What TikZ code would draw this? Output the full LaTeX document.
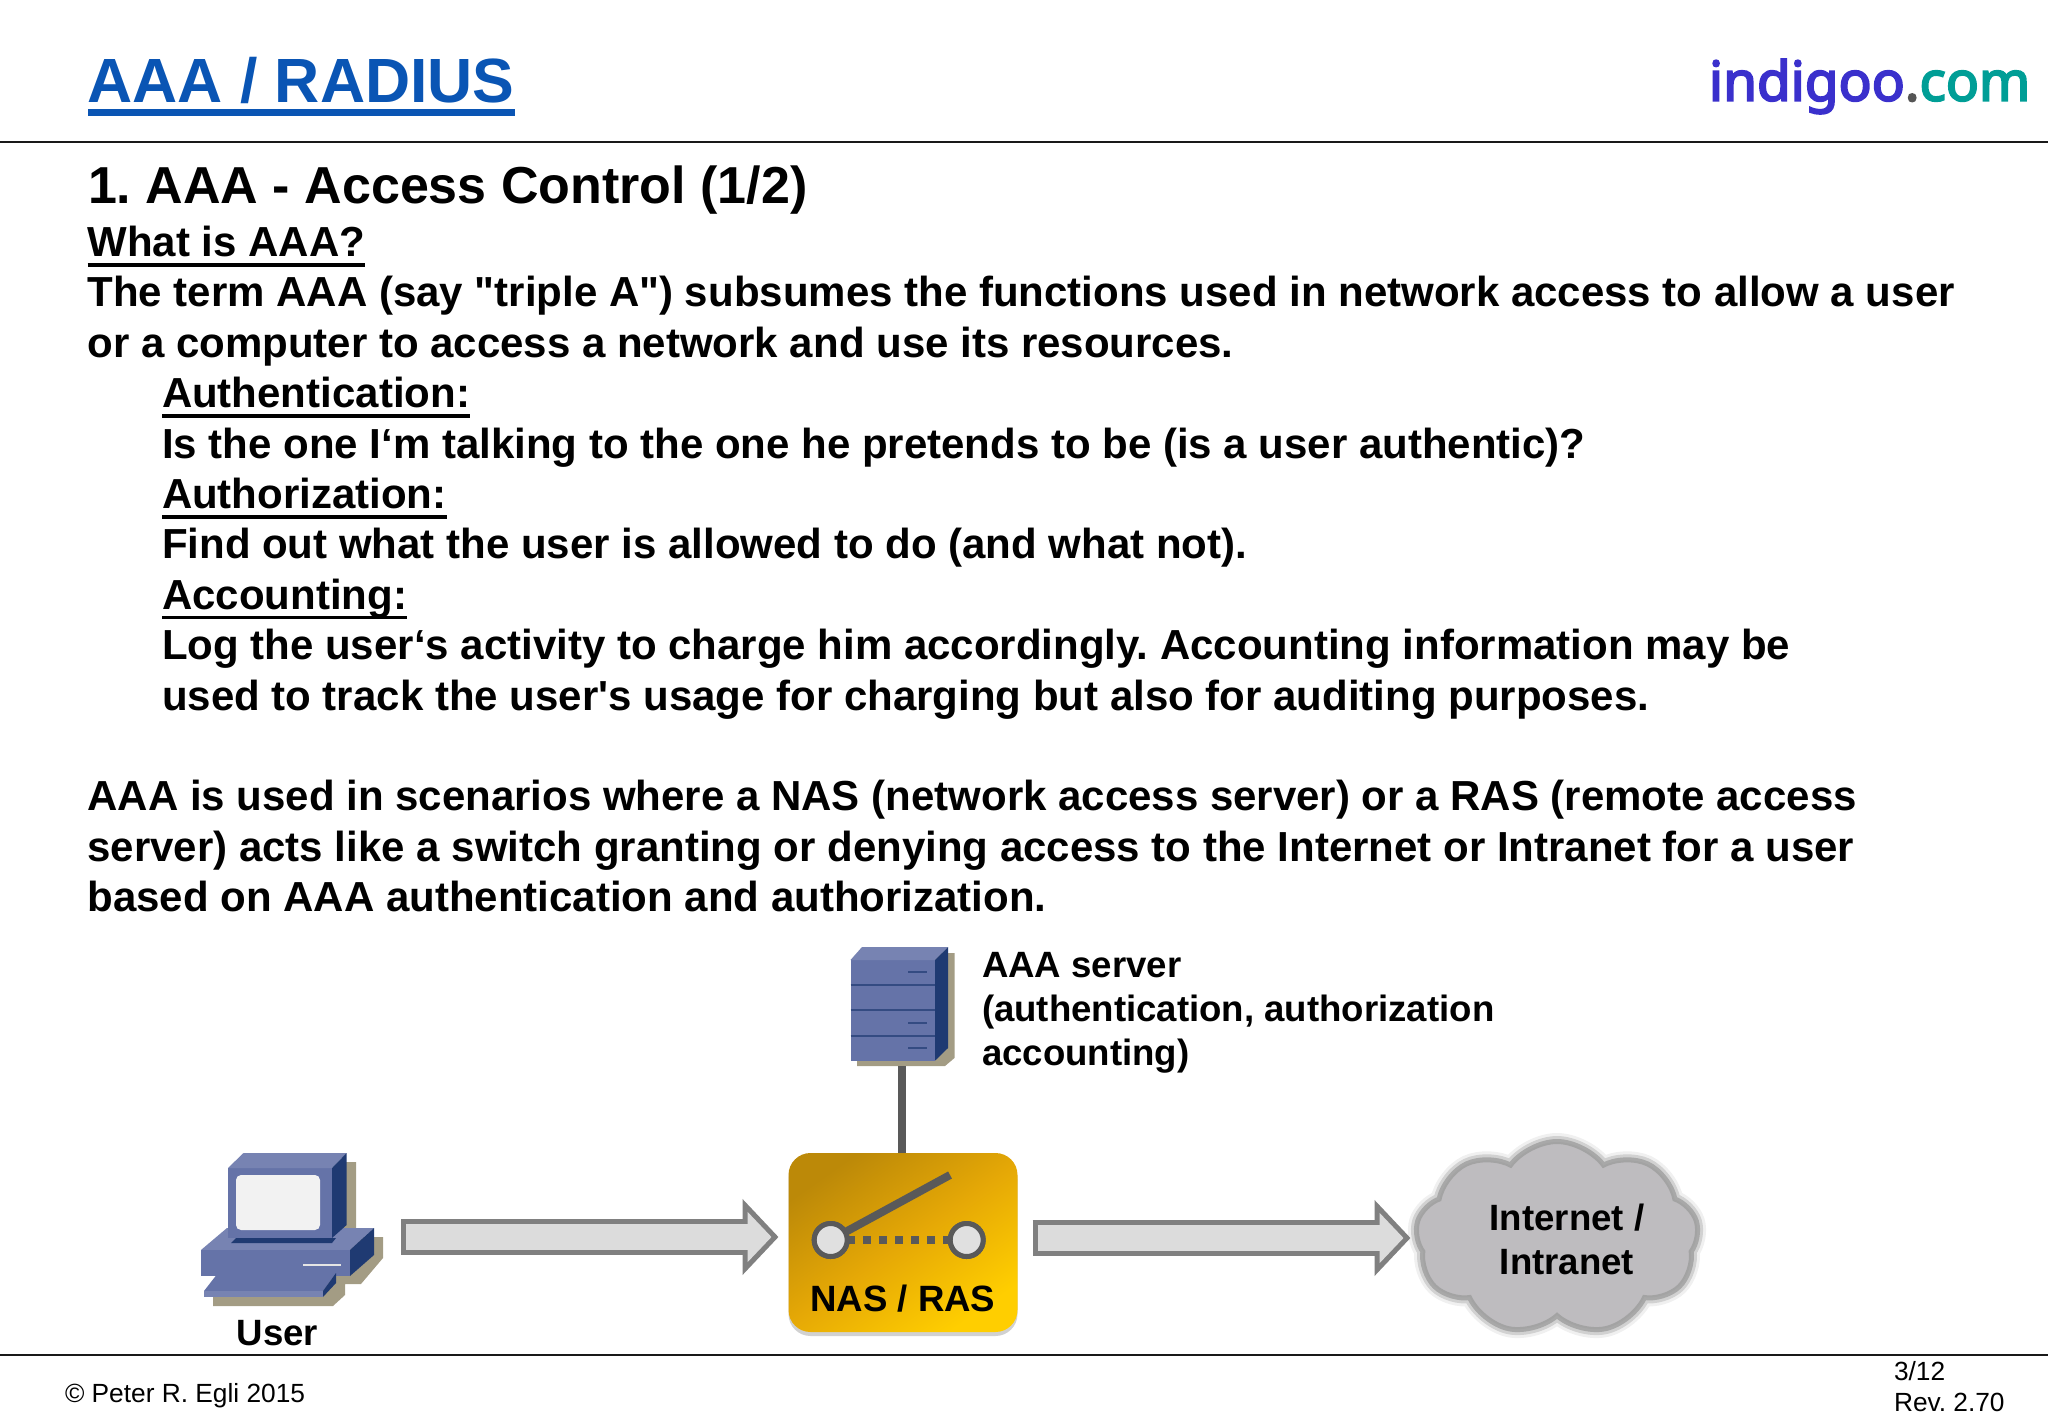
\documentclass[tikz,border=0pt]{standalone}
\usepackage{fontspec}
\setmainfont{Liberation Sans}[Ligatures=TeXOff]
\newfontfamily\logofont{Noto Sans}[FakeBold=3.5]
\usetikzlibrary{arrows.meta,shadows,shapes.symbols}

\definecolor{titleblue}{HTML}{0A55B4}
\definecolor{logoblue}{HTML}{3A30CC}
\definecolor{logoteal}{HTML}{009E96}
\definecolor{logogrey}{HTML}{555555}
\definecolor{boxfront}{HTML}{6573A8}
\definecolor{boxtop}{HTML}{7783B2}
\definecolor{boxside}{HTML}{1F3A72}
\definecolor{boxshadow}{HTML}{A39C84}
\definecolor{arrowedge}{HTML}{808080}
\definecolor{arrowfill}{HTML}{DCDCDC}
\definecolor{cloudfill}{HTML}{BEBCBF}
\definecolor{nasdark}{HTML}{BC8908}
\definecolor{nasmid}{HTML}{E5A806}
\definecolor{naslight}{HTML}{FFCE00}

\newcommand{\titlehead}[1]{\setbox0\hbox{#1}\rlap{\rule[-13pt]{\wd0}{7pt}}\box0}
\newcommand{\bodyhead}[1]{\setbox0\hbox{#1}\rlap{\rule[-10pt]{\wd0}{3.5pt}}\box0}

\tikzset{
    pagetext/.style={anchor=base west,inner sep=0pt,outer sep=0pt},
    bodyline/.style={pagetext,font=\fontsize{42}{42}\selectfont\bfseries},
    smallline/.style={pagetext,font=\fontsize{26.3}{26.3}\selectfont},
    drawlabel/.style={inner sep=0pt,outer sep=0pt,font=\fontsize{36.6}{44}\selectfont\bfseries},
    hidebox/.style={inner sep=0pt,outer sep=0pt},
    rulerline/.style={line width=2pt,black!90},
    boxline/.style={boxside!70!boxfront,line width=1.3pt},
    blockouter/.style={line width=36pt,arrowedge,-{Triangle[length=36pt,width=74pt]}},
    blockinner/.style={line width=26pt,arrowfill,-{Triangle[length=24pt,width=49pt]}},
    switchdot/.style={circle,draw=black!65,fill=black!12,line width=5pt,minimum size=33pt,inner sep=0pt,outer sep=0pt},
    switchbox/.style={rounded corners=22pt,minimum width=229pt,minimum height=179pt,inner sep=0pt,outer sep=0pt,
        left color=nasdark,right color=naslight,middle color=nasmid,shading angle=35,
        drop shadow={shadow xshift=0pt,shadow yshift=-4pt,opacity=.18,fill=black}},
    cloudbody/.style={cloud,cloud puffs=9,cloud puff arc=110,cloud ignores aspect,minimum width=280pt,minimum height=190pt,
        inner sep=0pt,outer sep=0pt,fill=cloudfill,draw=black!36,line width=2pt,
        preaction={draw=black!6,line width=20pt},
        preaction={draw=black!18,line width=14pt},
        preaction={draw=black!34,line width=8pt}}
}

\begin{document}
\frenchspacing
\begin{tikzpicture}[x=1pt,y=-1pt]
        \useasboundingbox (0,0) rectangle (2048,1418);

        \draw (87.5,103) node (title) [pagetext,font=\fontsize{62.5}{62.5}\selectfont\bfseries,text=titleblue] {\titlehead{AAA / RADIUS}};
        \draw (1709,100.7) node (logo) [pagetext,font=\fontsize{54.8}{54.8}\logofont] {\textcolor{logoblue}{indigoo}\textcolor{logogrey}{.}\textcolor{logoteal}{com}};
        \coordinate (headerleft) at (0,142);
        \coordinate (headerright) at (2048,142);
        \draw[rulerline] (headerleft) -- (headerright);

        \draw (88,203) node (heading) [pagetext,font=\fontsize{52}{52}\selectfont\bfseries] {1. AAA - Access Control (1/2)};
        \draw (87.5,256.5) node (whatis) [bodyline] {\bodyhead{What is AAA?}};
        \draw (87.5,306.9) node (termone) [bodyline] {The term AAA (say "triple A") subsumes the functions used in network access to allow a user};
        \draw (87.5,357.3) node (termtwo) [bodyline] {or a computer to access a network and use its resources.};
        \draw (162,407.7) node (authnhead) [bodyline] {\bodyhead{Authentication:}};
        \draw (162,458.1) node (authntext) [bodyline] {Is the one I‘m talking to the one he pretends to be (is a user authentic)?};
        \draw (162,508.5) node (authzhead) [bodyline] {\bodyhead{Authorization:}};
        \draw (162,558.9) node (authztext) [bodyline] {Find out what the user is allowed to do (and what not).};
        \draw (162,609.3) node (accthead) [bodyline] {\bodyhead{Accounting:}};
        \draw (162,659.7) node (acctone) [bodyline] {Log the user‘s activity to charge him accordingly. Accounting information may be};
        \draw (162,710.1) node (accttwo) [bodyline] {used to track the user's usage for charging but also for auditing purposes.};
        \draw (87.5,810.9) node (usedone) [bodyline] {AAA is used in scenarios where a NAS (network access server) or a RAS (remote access};
        \draw (87.5,861.3) node (usedtwo) [bodyline] {server) acts like a switch granting or denying access to the Internet or Intranet for a user};
        \draw (87.5,911.7) node (usedthree) [bodyline] {based on AAA authentication and authorization.};

        \draw (292,1237) node (pc) [hidebox,minimum width=182pt,minimum height=138pt] {};
        \draw (902,1006.5) node (server) [hidebox,minimum width=104pt,minimum height=119pt] {};
        \draw (903,1242.5) node (nas) [switchbox] {};

        % computer
        \fill[boxshadow] (213,1290) -- (213,1306) -- (333,1306) -- (345,1295) -- (345,1284) -- (361,1284) -- (383,1258) -- (383,1237) -- (356,1237) -- (356,1162) -- (340,1162) -- (340,1240) -- cycle;
        \fill[boxtop] (201,1250) -- (227,1228) -- (374,1228) -- (350,1250) -- cycle;
        \fill[boxfront] (201,1250) rectangle (350,1276);
        \fill[boxside] (350,1250) -- (374,1228) -- (374,1255) -- (350,1276) -- cycle;
        \fill[boxside] (231,1243) -- (236,1238) -- (336,1238) -- (332,1243) -- cycle;
        \fill[black!10] (303,1264) rectangle (341,1266);
        \fill[boxfront] (204,1291) -- (218,1273) -- (336,1273) -- (323,1291) -- cycle;
        \fill[boxtop] (204,1291) rectangle (323,1297);
        \fill[boxside] (323,1291) -- (336,1273) -- (336,1283) -- (323,1297) -- cycle;
        \fill[boxfront] (228,1168) rectangle (332,1238);
        \fill[boxtop] (228,1168) -- (243.5,1153) -- (346.6,1153) -- (332,1168) -- cycle;
        \fill[boxside] (332,1168) -- (346.6,1153) -- (346.6,1225) -- (332,1238) -- cycle;
        \fill[black!5,rounded corners=5pt] (236,1175) rectangle (320,1230);

        % server
        \fill[boxshadow] (857,1050) -- (857,1066) -- (945,1066) -- (954.5,1058) -- (954.5,953) -- (940,953) -- cycle;
        \fill[boxfront] (850.5,960) rectangle (935,1060.7);
        \fill[boxtop] (850.5,960) -- (862,947) -- (948,947) -- (935,960) -- cycle;
        \fill[boxside] (935,960) -- (948,947) -- (948,1048) -- (935,1060.7) -- cycle;
        \draw[boxline] (850.5,985) -- (935,985);
        \draw[boxline] (850.5,1010) -- (935,1010);
        \draw[boxline] (850.5,1036) -- (935,1036);
        \draw[boxline] (908,972) -- (927,972);
        \draw[boxline] (908,1023) -- (927,1023);
        \draw[boxline] (908,1048) -- (927,1048);

        \draw[black!65,line width=8pt] (server.south) -- (server.south |- nas.north);

        % switch
        \draw (830.7,1240) node (dotleft) [switchdot] {};
        \draw (966.7,1240) node (dotright) [switchdot] {};
        \coordinate (armtip) at (950,1175);
        \draw[black!65,line width=8pt] (dotleft) -- (armtip);
        \draw[black!65,line width=8pt,dash pattern=on 8pt off 8pt] (dotleft) -- (dotright);
        \draw (830.7,1240) node (dotleftfront) [switchdot] {};
        \draw (966.7,1240) node (dotrightfront) [switchdot] {};
        \draw (902.8,1311.7) node (naslabel) [drawlabel,anchor=base] {NAS / RAS};

        \draw (1557,1238) node (internet) [cloudbody] {};
        \coordinate (cloudport) at (1410.5,1238);
        \draw[blockouter,shorten <=18pt,shorten >=10pt] (pc.east) -- (nas.west |- pc.east);
        \draw[blockinner,shorten <=23pt,shorten >=17pt] (pc.east) -- (nas.west |- pc.east);
        \draw[blockouter,shorten <=15pt] (nas.east |- cloudport) -- (cloudport);
        \draw[blockinner,shorten <=20pt,shorten >=7pt] (nas.east |- cloudport) -- (cloudport);

        \draw (1567,1239) node (internetlabel) [drawlabel,align=center] {Internet /\\Intranet};
        \draw (277.5,1345) node (userlabel) [drawlabel,anchor=base] {User};
        \draw (982,1013) node (serverlabel) [drawlabel,anchor=west,align=left] {AAA server\\(authentication, authorization\\accounting)};

        \coordinate (footerleft) at (0,1354.7);
        \coordinate (footerright) at (2048,1354.7);
        \draw[rulerline] (footerleft) -- (footerright);
        \draw (65,1402) node (copyright) [smallline] {© Peter R. Egli 2015};
        \draw (1894,1380) node (pageno) [smallline] {3/12};
        \draw (1894,1411) node (revision) [smallline] {Rev. 2.70};
    \end{tikzpicture}
\end{document}
